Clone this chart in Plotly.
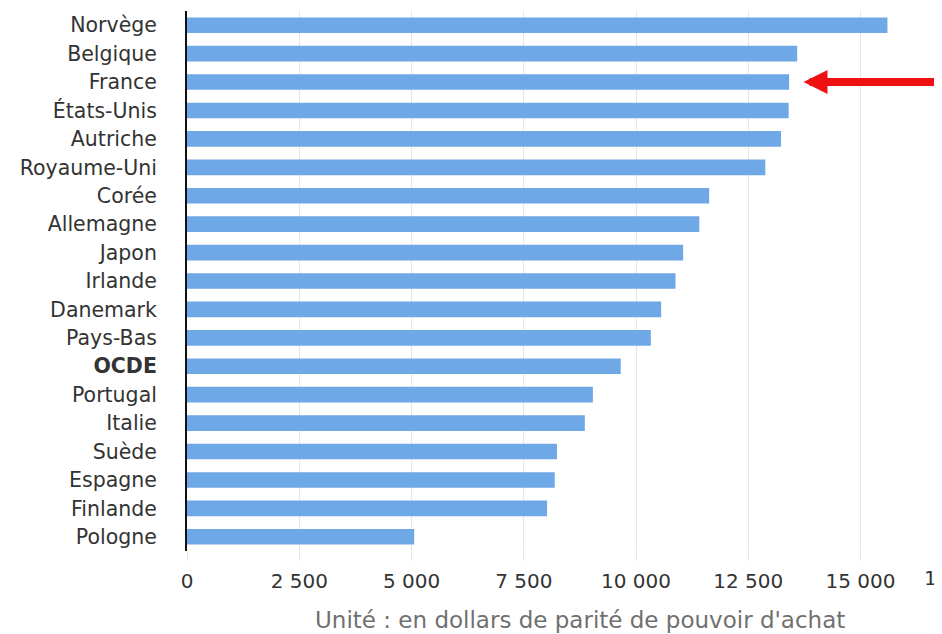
import plotly.graph_objects as go

categories = ["Norvège", "Belgique", "France", "États-Unis", "Autriche", "Royaume-Uni",
              "Corée", "Allemagne", "Japon", "Irlande", "Danemark", "Pays-Bas", "OCDE",
              "Portugal", "Italie", "Suède", "Espagne", "Finlande", "Pologne"]
values = [15600, 13590, 13410, 13400, 13230, 12880, 11630, 11410, 11050, 10880,
          10560, 10330, 9660, 9040, 8860, 8240, 8190, 8020, 5060]
x_ticks = [0, 2500, 5000, 7500, 10000, 12500, 15000, 17500]
highlight = "France"
axis_title = "Unité : en dollars de parité de pouvoir d'achat"

# the page body has an 8px default margin, so the figure is 8px smaller
W, H = 934, 626
ML, MR, MT, MB = 179, 0, 3, 83
xmax = 16815  # visible part of the axis (chart is cropped on the right)

def fmt(v):
    return f"{v:,}".replace(",", " ")

ticktext = [f"<b>{c}</b>" if c == "OCDE" else c for c in categories]

fig = go.Figure(go.Bar(
    y=categories, x=values, orientation="h",
    marker=dict(color="#6fa8e6", line=dict(width=0)),
    hoverinfo="x+y",
))

font_main = "DejaVu Sans, Verdana, sans-serif"

fig.update_layout(
    width=W, height=H,
    margin=dict(l=ML, r=MR, t=MT, b=MB, pad=0, autoexpand=False),
    paper_bgcolor="white", plot_bgcolor="white",
    bargap=0.45,
    showlegend=False,
    font=dict(family=font_main, size=20, color="#333333"),
    xaxis=dict(
        range=[0, xmax],
        tickvals=x_ticks, ticktext=[fmt(v) for v in x_ticks],
        showgrid=True, gridcolor="#e6e6e6", gridwidth=1,
        zeroline=False, showline=False,
        ticks="outside", ticklen=9, tickcolor="#e6e6e6", tickwidth=1,
        tickfont=dict(size=20, color="#333333"),
        ticklabelstandoff=3,
        automargin=False,
        fixedrange=True,
    ),
    yaxis=dict(
        categoryorder="array", categoryarray=categories,
        tickvals=categories, ticktext=ticktext,
        range=[len(categories) - 0.5, -0.5],
        showline=True, linecolor="#111111", linewidth=2,
        showgrid=False, zeroline=False, ticks="",
        tickfont=dict(size=20.5, color="#333333"),
        ticklabelstandoff=24,
        automargin=False,
        fixedrange=True,
    ),
)

annotations = []
# cropped tick label beyond the visible range
for v in x_ticks:
    if v > xmax:
        annotations.append(dict(
            x=v / xmax, xref="paper", y=0, yref="paper", yshift=-13, xshift=-14,
            text=fmt(v), showarrow=False, yanchor="top", xanchor="center",
            font=dict(size=20, color="#333333", family=font_main),
        ))
# axis title centered on the full (uncropped) axis
annotations.append(dict(
    x=(x_ticks[-1] / xmax) / 2, xref="paper", y=0, yref="paper", yshift=-54,
    text=axis_title, showarrow=False, yanchor="top", xanchor="center",
    font=dict(size=23, color="#707070", family=font_main),
))
# red arrow pointing at France
fi = categories.index(highlight)
annotations.append(dict(
    x=values[fi] + 320, y=highlight, xref="x", yref="y",
    ax=220, ay=0, axref="pixel", ayref="pixel",
    text="", showarrow=True, arrowhead=2, arrowsize=0.6, arrowwidth=8,
    arrowcolor="#ee1111", standoff=0,
))
fig.update_layout(annotations=annotations)

fig.write_html("out.html")
